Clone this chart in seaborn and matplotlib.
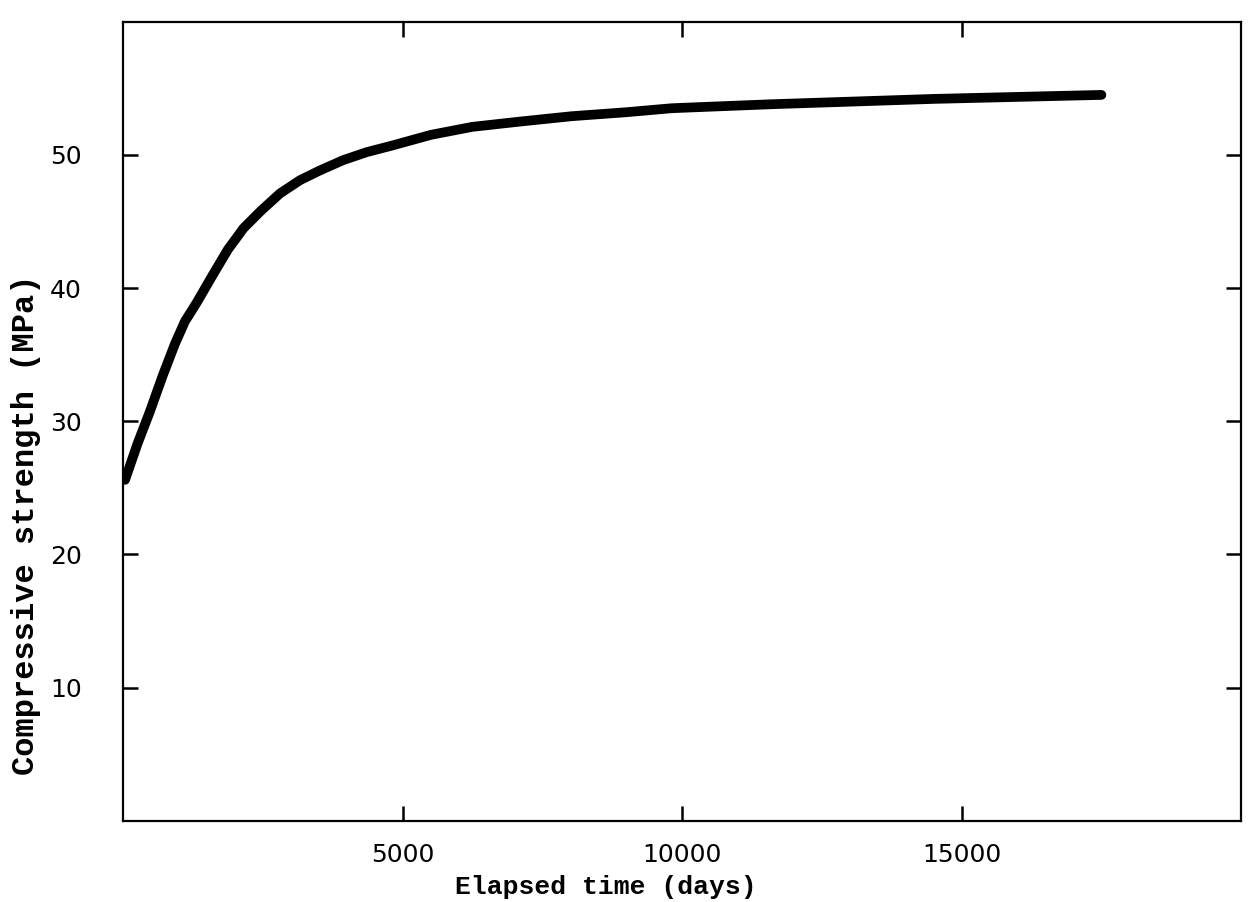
import numpy as np
import pandas as pd
import matplotlib
matplotlib.use("Agg")
import matplotlib.pyplot as plt
import seaborn as sns

# values
elapsed_days = [28, 250, 470, 700, 920, 1100, 1310, 1600, 1870, 2150, 2460,
                2800, 3160, 3500, 3930, 4350, 4810, 5500, 6240, 7100, 8020,
                9000, 9810, 11600, 14500, 17500]
strength_mpa = [25.6, 28.3, 30.7, 33.4, 35.8, 37.5, 38.9, 41.0, 42.9, 44.5,
                45.8, 47.1, 48.1, 48.8, 49.6, 50.2, 50.7, 51.5, 52.1, 52.5,
                52.9, 53.2, 53.5, 53.8, 54.2, 54.5]

x_ticks = [5000, 10000, 15000]
y_ticks = [10, 20, 30, 40, 50]

df = pd.DataFrame({"days": elapsed_days, "strength": strength_mpa})

sns.set_style("ticks")
plt.rcParams['font.family'] = ['DejaVu Sans']

fig = plt.figure(figsize=(12.6, 9.02), dpi=100)
ax = fig.add_axes([0.098, 0.09, 0.887, 0.886])

sns.lineplot(data=df, x="days", y="strength", color="black", linewidth=7,
             solid_capstyle="round", solid_joinstyle="round", ax=ax)

ax.set_xlim(0, 20000)
ax.set_ylim(0, 60)
ax.set_xticks(x_ticks)
ax.set_yticks(y_ticks)
ax.set_xticklabels([str(t) for t in x_ticks], fontsize=18, color="black")
ax.set_yticklabels([str(t) for t in y_ticks], fontsize=18, color="black")

# inward ticks on all four sides, like the original plot
ax.tick_params(direction="in", length=11, width=1.8, top=True, right=True,
               labeltop=False, labelright=False, color="black")
ax.tick_params(axis="x", pad=16)
ax.tick_params(axis="y", pad=30)

for sp in ax.spines.values():
    sp.set_linewidth(1.6)
    sp.set_color("black")

ax.set_xlabel("Elapsed time (days)", fontsize=19, family="Liberation Mono",
              fontweight="bold", color="black")
ax.set_ylabel("Compressive strength (MPa)", fontsize=23, family="Liberation Mono",
              fontweight="bold", color="black")
ax.xaxis.set_label_coords(0.432, -0.068)
ax.yaxis.set_label_coords(-0.074, 0.37)

fig.savefig("out.png", dpi=100, facecolor="white")
